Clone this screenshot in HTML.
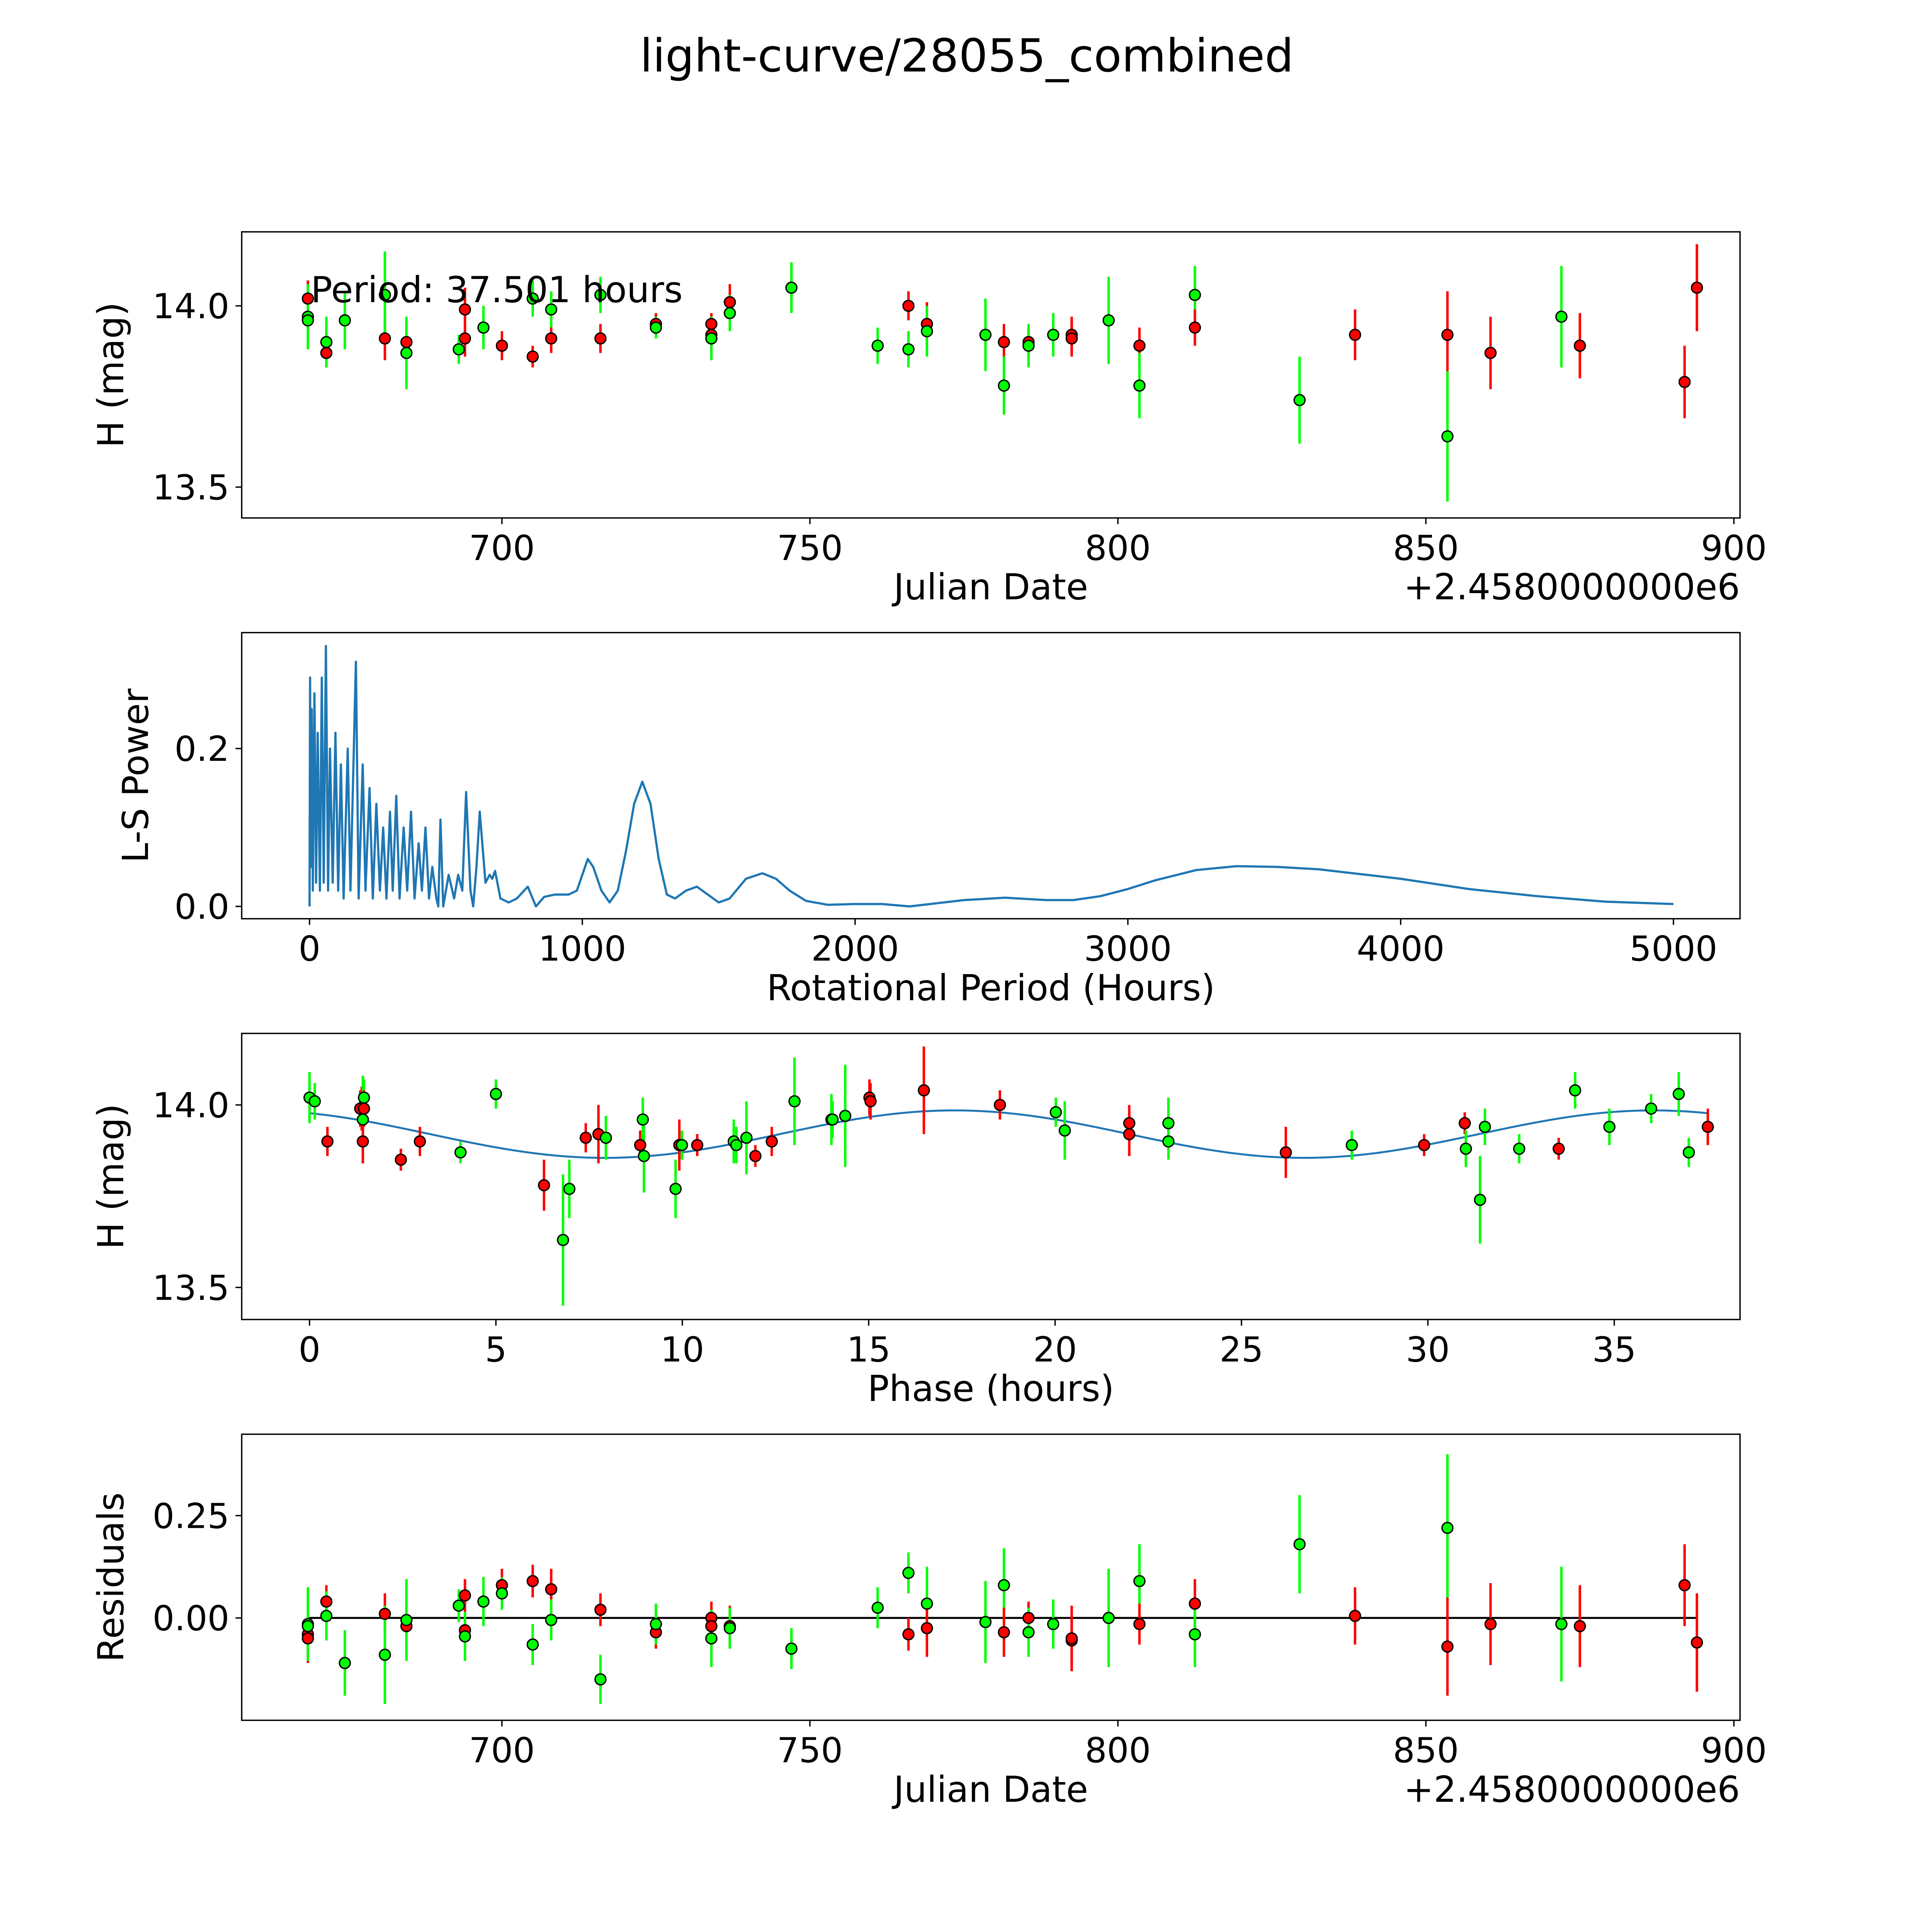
<!DOCTYPE html>
<html><head><meta charset="utf-8"><style>
html,body{margin:0;padding:0;background:#fff;overflow:hidden}
svg{display:block}
text{font-family:"DejaVu Sans","Liberation Sans",sans-serif;fill:#000}
</style></head><body>
<svg id="fig" xmlns="http://www.w3.org/2000/svg" width="5400" height="5400" viewBox="0 0 1692 1692"></svg>
<script>
// ---- Panel 1: light curve data ----
const lcJD  = [668.5,668.5,668.5,671.5,671.5,674.5,681,681,684.5,684.5,693,694,694,697,700,705,705,708,708,716,716,725,725,734,734,734,737,737,747,761,766,766,769,769,778.5,781.5,781.5,785.5,785.5,789.5,792.5,792.5,798.5,803.5,803.5,812.5,812.5,829.5,838.5,853.5,853.5,860.5,872,875,892,894];
const lcMag = [14.02,13.97,13.96,13.87,13.90,13.96,13.91,14.03,13.90,13.87,13.88,13.99,13.91,13.94,13.89,13.86,14.02,13.91,13.99,13.91,14.03,13.95,13.94,13.95,13.92,13.91,14.01,13.98,14.05,13.89,14.00,13.88,13.95,13.93,13.92,13.90,13.78,13.90,13.89,13.92,13.92,13.91,13.96,13.89,13.78,14.03,13.94,13.74,13.92,13.92,13.64,13.87,13.97,13.89,13.79,14.05];
const lcErr = [0.05,0.09,0.07,0.04,0.07,0.08,0.06,0.12,0.05,0.1,0.04,0.06,0.05,0.06,0.04,0.03,0.05,0.04,0.05,0.04,0.05,0.03,0.03,0.03,0.04,0.06,0.05,0.05,0.07,0.05,0.04,0.05,0.06,0.07,0.1,0.05,0.08,0.04,0.06,0.06,0.05,0.05,0.12,0.05,0.09,0.08,0.05,0.12,0.07,0.12,0.18,0.1,0.14,0.09,0.1,0.12];
const lcCol = ['r','g','g','r','g','g','r','g','r','g','g','r','r','g','r','r','g','r','g','r','g','r','g','r','r','g','r','g','g','g','r','g','r','g','g','r','g','r','g','g','r','r','g','r','g','g','r','g','r','r','g','r','g','r','r','r'];
// ---- Panel 2: periodogram ----
const lsPeriod = [0,2,5,8,12,18,24,30,38,45,52,60,68,75,85,95,105,115,125,140,150,170,180,195,205,220,232,245,258,270,282,295,305,318,330,345,358,372,385,400,412,425,438,450,465,472,480,490,510,530,545,560,574,590,600,612,624,645,660,670,680,700,730,760,800,830,860,900,950,980,1000,1020,1040,1070,1100,1130,1160,1190,1220,1250,1280,1310,1340,1380,1420,1460,1500,1540,1600,1660,1710,1760,1820,1900,2000,2100,2200,2300,2400,2550,2700,2800,2900,3000,3100,3250,3400,3550,3700,3850,4000,4250,4500,4750,5000];
const lsPower  = [0,0.29,0.05,0.25,0.02,0.27,0.03,0.22,0.02,0.29,0.03,0.33,0.02,0.2,0.03,0.22,0.02,0.18,0.01,0.2,0.02,0.31,0.01,0.18,0.02,0.15,0.01,0.13,0.02,0.10,0.01,0.12,0.02,0.14,0.01,0.10,0.02,0.12,0.01,0.08,0.02,0.10,0.01,0.05,0.01,0.0,0.11,0.0,0.04,0.01,0.04,0.02,0.145,0.02,0.0,0.05,0.12,0.03,0.04,0.035,0.045,0.01,0.005,0.01,0.025,0.0,0.012,0.015,0.015,0.02,0.04,0.06,0.05,0.02,0.005,0.02,0.07,0.13,0.158,0.13,0.06,0.015,0.01,0.02,0.025,0.015,0.005,0.01,0.035,0.042,0.035,0.02,0.007,0.002,0.003,0.003,0.0,0.004,0.008,0.011,0.008,0.008,0.013,0.022,0.033,0.046,0.051,0.05,0.047,0.041,0.035,0.022,0.013,0.006,0.003];
// ---- Panel 3: phased curve ----
const phPhase = [0.0,0.14,0.48,1.40,1.43,1.46,1.36,1.43,1.46,2.45,2.96,4.05,5.00,6.29,6.80,6.97,7.41,7.75,7.95,8.87,8.94,8.97,9.82,9.92,9.99,10.40,11.38,11.45,11.72,11.96,12.40,13.01,14.00,14.03,14.37,15.02,15.05,16.48,18.52,20.02,20.26,21.99,21.99,23.04,23.04,26.19,27.96,29.90,30.99,31.02,31.40,31.53,32.45,33.51,33.95,34.87,35.99,36.73,37.00,37.51];
const phMag = [14.02,14.01,13.90,13.99,13.96,14.02,13.99,13.90,13.99,13.85,13.90,13.87,14.03,13.78,13.63,13.77,13.91,13.92,13.91,13.89,13.96,13.86,13.77,13.89,13.89,13.89,13.90,13.89,13.91,13.86,13.90,14.01,13.96,13.96,13.97,14.02,14.01,14.04,14.00,13.98,13.93,13.95,13.92,13.95,13.90,13.87,13.89,13.89,13.95,13.88,13.74,13.94,13.88,13.88,14.04,13.94,13.99,14.03,13.87,13.94];
const phErr = [0.07,0.05,0.04,0.06,0.12,0.05,0.05,0.06,0.05,0.03,0.04,0.03,0.04,0.07,0.18,0.08,0.04,0.08,0.06,0.04,0.06,0.1,0.08,0.07,0.04,0.03,0.06,0.05,0.1,0.03,0.04,0.12,0.07,0.05,0.14,0.05,0.05,0.12,0.04,0.04,0.08,0.05,0.06,0.07,0.05,0.07,0.04,0.03,0.03,0.05,0.12,0.05,0.04,0.03,0.05,0.05,0.04,0.06,0.04,0.05];
const phCol = ['g','g','r','r','g','g','r','r','r','r','r','g','g','r','g','g','r','r','g','r','g','g','g','r','g','r','g','g','g','r','r','g','g','g','g','r','r','r','r','g','g','r','r','g','g','r','g','r','r','g','g','g','g','r','g','g','g','g','g','r'];
const fitMean = [13.92], fitAmp = [0.065], fitPeak = [17.3], fitPer = [18.75];
// ---- Panel 4: residuals ----
const rsJD  = [668.5,668.5,668.5,668.5,671.5,671.5,674.5,681,681,684.5,684.5,693,694,694,694,697,700,700,705,705,708,708,716,716,725,725,734,734,734,737,737,747,761,766,766,769,769,778.5,781.5,781.5,785.5,785.5,789.5,792.5,792.5,798.5,803.5,803.5,812.5,812.5,829.5,838.5,853.5,853.5,860.5,872,875,892,894];
const rsVal = [-0.04,-0.05,-0.015,-0.02,0.04,0.005,-0.11,0.01,-0.09,-0.02,-0.005,0.03,0.055,-0.03,-0.045,0.04,0.08,0.06,0.09,-0.065,0.07,-0.005,0.02,-0.15,-0.035,-0.015,0.0,-0.02,-0.05,-0.02,-0.025,-0.075,0.025,0.11,-0.04,0.035,-0.025,-0.01,0.08,-0.035,0.0,-0.035,-0.015,-0.055,-0.05,0.0,0.09,-0.015,0.035,-0.04,0.18,0.005,0.22,-0.07,-0.015,-0.015,-0.02,0.08,-0.06];
const rsErr = [0.07,0.05,0.09,0.05,0.04,0.06,0.08,0.05,0.12,0.06,0.1,0.04,0.04,0.04,0.06,0.06,0.04,0.04,0.04,0.05,0.05,0.05,0.04,0.06,0.04,0.05,0.04,0.04,0.07,0.05,0.05,0.05,0.05,0.05,0.04,0.09,0.07,0.1,0.09,0.06,0.04,0.06,0.06,0.06,0.08,0.12,0.09,0.05,0.06,0.08,0.12,0.07,0.18,0.12,0.1,0.14,0.1,0.1,0.12];
const rsCol = ['r','r','g','g','r','g','g','r','g','r','g','g','r','r','g','g','r','g','r','g','r','g','r','g','r','g','r','r','g','r','g','g','g','g','r','g','r','g','g','r','r','g','g','r','r','g','g','r','r','g','g','r','g','r','r','g','r','r','r'];

const NS='http://www.w3.org/2000/svg';
const svg=document.getElementById('fig');
function el(tag,attrs,parent){const e=document.createElementNS(NS,tag);for(const k in attrs)e.setAttribute(k,attrs[k]);(parent||svg).appendChild(e);return e;}
function lin(d0,d1,p0,p1){return v=>p0+(v-d0)*(p1-p0)/(d1-d0);}
const COL={r:'#ff0000',g:'#00ff00'};
const L=196,R=1411;

function axes(name,top,bot,xs,xt,xfmt,ys,yt,yfmt,xlabel,ylabel,ylx,offset){
  const g=el('g',{});
  
  
  const fr=el('rect',{x:L,y:top,width:R-L,height:bot-top,fill:'none',stroke:'#000','stroke-width':1.1},g);
  
  
  xt.forEach(v=>{const x=xs(v);
    el('line',{x1:x,y1:bot,x2:x,y2:bot+5,stroke:'#000','stroke-width':1.1},g);
    const t=el('text',{x:x,y:bot+34,'font-size':28,'text-anchor':'middle'},g);t.textContent=xfmt(v);
    
    
  });
  yt.forEach(v=>{const y=ys(v);
    el('line',{x1:L,y1:y,x2:L-5,y2:y,stroke:'#000','stroke-width':1.1},g);
    const t=el('text',{x:L-10,y:y+10,'font-size':28,'text-anchor':'end'},g);t.textContent=yfmt(v);
    
    
  });
  const xl=el('text',{x:(L+R)/2,y:bot+66,'font-size':29,'text-anchor':'middle'},g);xl.textContent=xlabel;
  
  
  const yc=(top+bot)/2;
  const yl=el('text',{x:ylx,y:yc,'font-size':29,'text-anchor':'middle',transform:`rotate(-90 ${ylx} ${yc})`},g);yl.textContent=ylabel;
  
  
  if(offset){const o=el('text',{x:R,y:bot+66,'font-size':29,'text-anchor':'end'},g);o.textContent=offset;
    
    }
  return g;
}
function points(g,xs,ys,X,Y,E,C){
  X.forEach((x,i)=>{const px=xs(x),c=COL[C[i]];
    const b=el('line',{x1:px,y1:ys(Y[i]-E[i]),x2:px,y2:ys(Y[i]+E[i]),stroke:c,'stroke-width':2},g);
    
    
  });
  X.forEach((x,i)=>{
    const p=el('circle',{cx:xs(x),cy:ys(Y[i]),r:4.4,fill:COL[C[i]],stroke:'#000','stroke-width':1.1},g);
    
    
  });
}

const ttl=el('text',{x:784,y:58,'font-size':37,'text-anchor':'middle'});
ttl.textContent='light-curve/28055_combined';



{const xs=lin(700,900,407,1406), ys=lin(14,13.5,248,395);
 const g=axes('light-curve',188,420,xs,[700,750,800,850,900],v=>v,ys,[13.5,14.0],v=>v.toFixed(1),'Julian Date','H (mag)',100,'+2.4580000000e6');
 points(g,xs,ys,lcJD,lcMag,lcErr,lcCol);
 const t=el('text',{x:252,y:245,'font-size':29},g);t.textContent='Period: 37.501 hours';
 
 }

{const xs=lin(0,5000,251,1357), ys=lin(0,0.2,735,607);
 const g=axes('periodogram',513,745,xs,[0,1000,2000,3000,4000,5000],v=>v,ys,[0.0,0.2],v=>v.toFixed(1),'Rotational Period (Hours)','L-S Power',120,null);
 const d=lsPeriod.map((p,i)=>(i?'L':'M')+xs(p).toFixed(2)+' '+ys(lsPower[i]).toFixed(2)).join(' ');
 const pl=el('path',{d:d,fill:'none',stroke:'#1f77b4','stroke-width':1.8,'stroke-linejoin':'round'},g);
 
 }

{const xs=lin(0,35,251,1309), ys=lin(14,13.5,896,1044);
 const g=axes('phased',838,1070,xs,[0,5,10,15,20,25,30,35],v=>v,ys,[13.5,14.0],v=>v.toFixed(1),'Phase (hours)','H (mag)',100,null);
 let d='';for(let i=0;i<=300;i++){const p=37.5*i/300;const m=fitMean[0]+fitAmp[0]*Math.cos(2*Math.PI*(p-fitPeak[0])/fitPer[0]);d+=(i?'L':'M')+xs(p).toFixed(2)+' '+ys(m).toFixed(2);}
 const fl=el('path',{d:d,fill:'none',stroke:'#1f77b4','stroke-width':1.6},g);
 
 
 points(g,xs,ys,phPhase,phMag,phErr,phCol);}

{const xs=lin(700,900,407,1406), ys=lin(0,0.25,1312,1229);
 const g=axes('residuals',1163,1395,xs,[700,750,800,850,900],v=>v,ys,[0.0,0.25],v=>v.toFixed(2),'Julian Date','Residuals',100,'+2.4580000000e6');
 const zl=el('line',{x1:xs(668.5),y1:ys(0),x2:xs(894),y2:ys(0),stroke:'#000','stroke-width':1.6},g);
 
 
 points(g,xs,ys,rsJD,rsVal,rsErr,rsCol);}
</script>
</body></html>
